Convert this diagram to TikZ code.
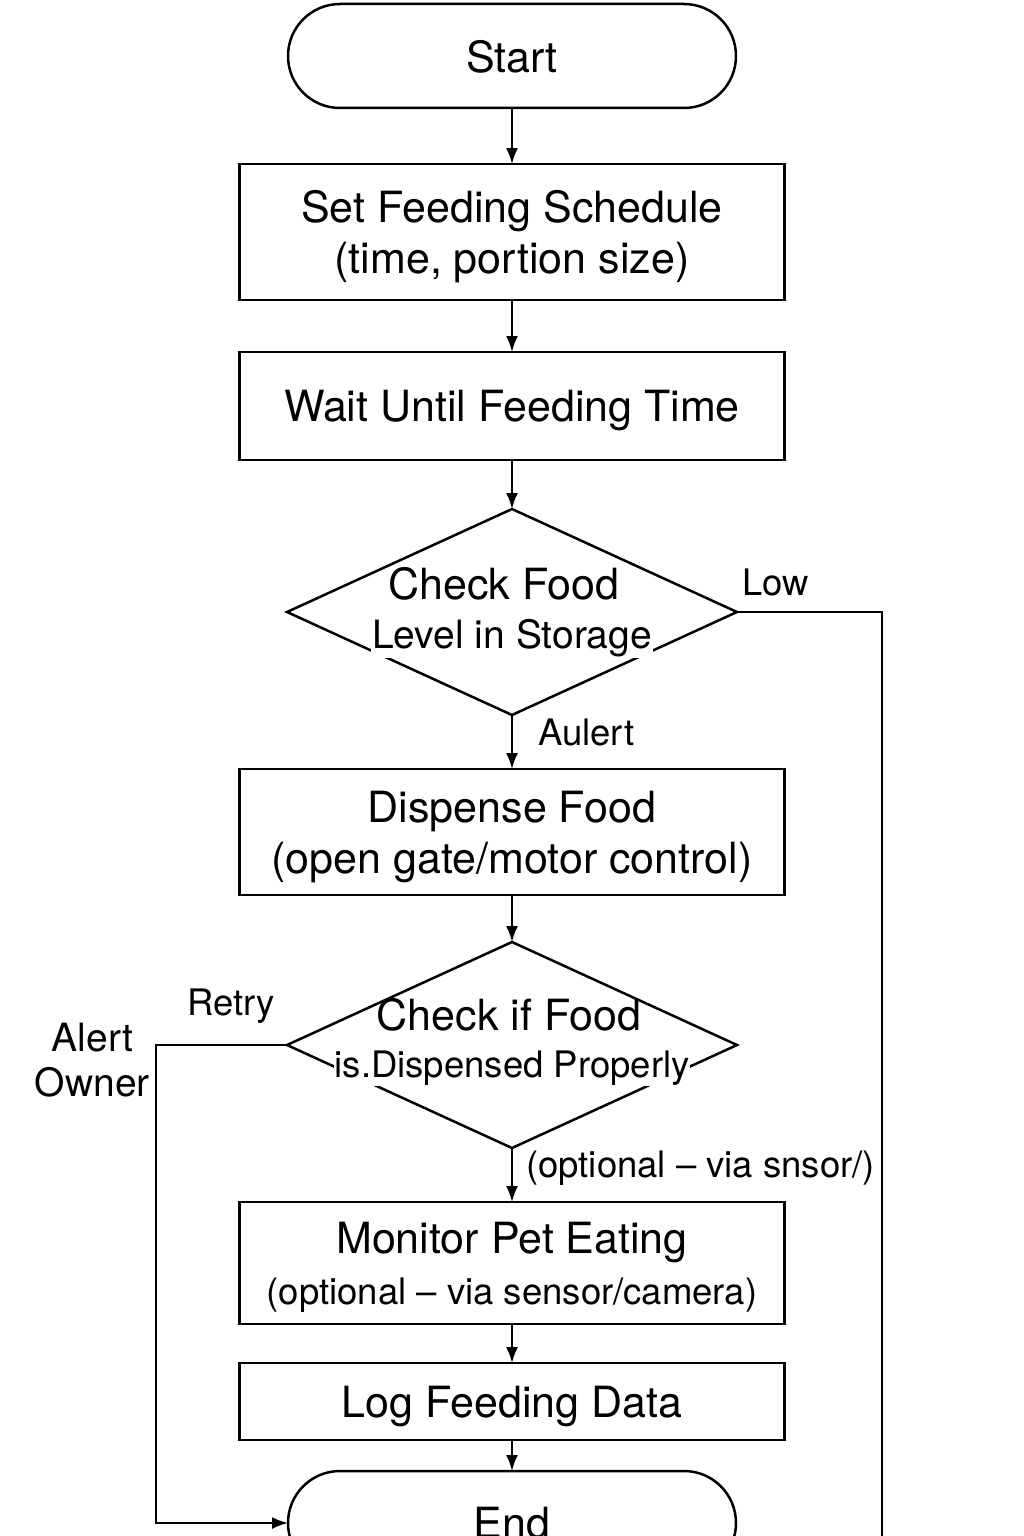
\documentclass[tikz,border=0pt]{standalone}
\usepackage{fontspec}
\setmainfont{TeX Gyre Heros}
\usetikzlibrary{positioning,shapes.geometric,arrows.meta}
\newcommand\bigtxt{\fontsize{43}{51}\selectfont}
\newcommand\midtxt{\fontsize{39}{45}\selectfont}
\newcommand\smalltxt{\fontsize{36.5}{45}\selectfont}
\tikzset{
	term/.style={draw, line width=2.5pt, rounded corners=52pt, minimum width=448pt, minimum height=104pt, font=\bigtxt, text depth=-6pt, outer sep=0pt},
	proc/.style={draw, rectangle, line width=2.5pt, minimum width=545pt, align=center, font=\bigtxt, text depth=-3pt, outer sep=0pt},
	decide/.style={draw, diamond, line width=2.5pt, minimum width=450pt, minimum height=206pt, inner sep=0pt, outer sep=0pt},
	dtext/.style={inner sep=1pt, anchor=base},
	lbl/.style={inner sep=0pt, font=\smalltxt},
	flow/.style={line width=2pt, -{Latex[length=16pt,width=12pt]}},
}
\begin{document}
\begin{tikzpicture}[x=1pt, y=1pt]
	\useasboundingbox (0,0) rectangle (1024,-1536);
	\begin{scope}[node distance=52pt]
	\node (start) [term] at (512,-56) {Start};
	\node (sched) [proc, below=56pt of start, minimum height=136pt] {Set Feeding Schedule\\(time, portion size)};
	\node (wait) [proc, below=52pt of sched, minimum height=108pt] {Wait Until Feeding Time};
	\node (check) [decide, below=49pt of wait] {};
	\node (checkA) [dtext, font=\bigtxt] at ([xshift=-8pt, yshift=13pt]check.center) {Check Food};
	\node (checkB) [dtext, font=\midtxt, fill=white] at ([yshift=-36pt]check.center) {Level in Storage};
	\node (dispense) [proc, below=54pt of check, minimum height=126pt] {Dispense Food\\(open gate/motor control)};
	\node (verify) [decide, below=47pt of dispense] {};
	\node (verifyA) [dtext, font=\bigtxt] at ([xshift=-3pt, yshift=15pt]verify.center) {Check if Food};
	\node (verifyB) [dtext, font=\smalltxt, fill=white] at ([yshift=-32pt]verify.center) {is.Dispensed Properly};
	\node (monitor) [proc, below=54pt of verify, minimum height=122pt] {Monitor Pet Eating\\\smalltxt(optional – via sensor/camera)};
	\node (log) [proc, below=39pt of monitor, minimum height=77pt] {Log Feeding Data};
	\node (end) [term, below=31pt of log] {End};

	\coordinate (rx) at (882,-1536);
	\coordinate (lx) at (156,0);
	\coordinate (lcorner) at (verify.west -| lx);

	\node (low) [lbl, above right=16pt and 5pt of check.east] {Low};
	\node (aulert) [lbl, below right=4pt and 26pt of check.south] {Aulert};
	\node (retry) [lbl, above left=21pt and 12pt of verify.west] {Retry};
	\node (owner) [lbl, font=\midtxt, align=center, anchor=north east] at ([xshift=-6pt, yshift=22pt]lcorner) {Alert\\Owner};
	\node (optlbl) [lbl, below right=3pt and 14pt of verify.south] {(optional – via snsor/)};

	\draw [flow] (start) -- (sched);
	\draw [flow] (sched) -- (wait);
	\draw [flow] (wait) -- (check);
	\draw [flow] (check) -- (dispense);
	\draw [flow] (dispense) -- (verify);
	\draw [flow] (verify) -- (monitor);
	\draw [flow] (monitor) -- (log);
	\draw [flow] (log) -- (end);
	\draw [line width=2pt] (check.east) -| (rx);
	\draw [flow] (verify.west) -- (lcorner) |- (end.west);
	\end{scope}
\end{tikzpicture}
\end{document}
